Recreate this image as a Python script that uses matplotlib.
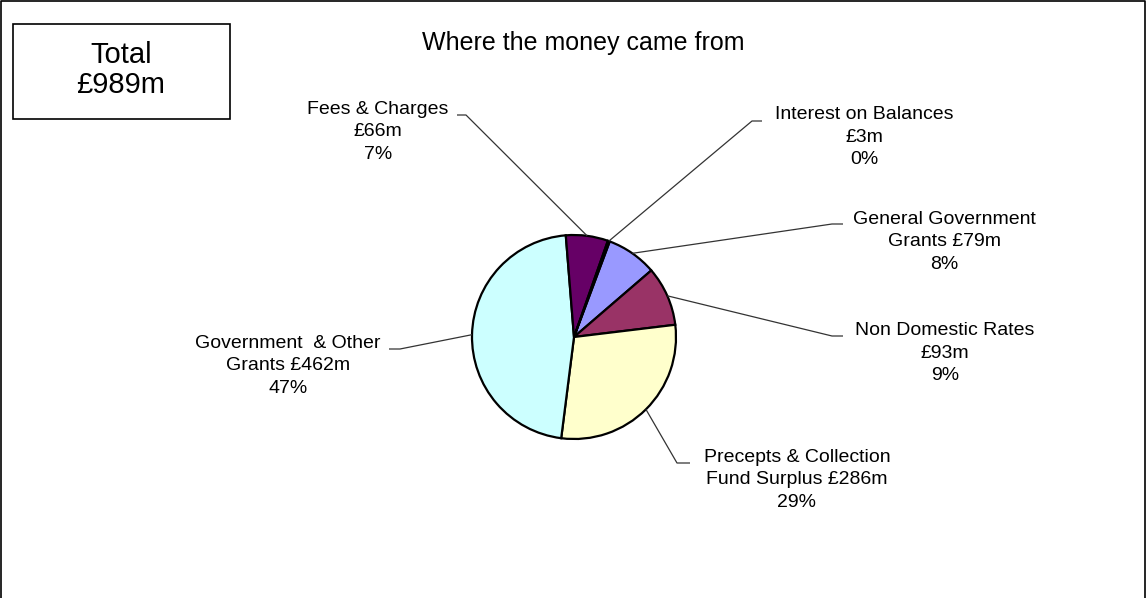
import numpy as np
import matplotlib
matplotlib.use("Agg")
import matplotlib.pyplot as plt
from matplotlib.patches import Rectangle

# data, in the order Excel drew the slices (clockwise)
labels = ["General Government\nGrants £79m\n8%",
          "Non Domestic Rates\n£93m\n9%",
          "Precepts & Collection\nFund Surplus £286m\n29%",
          "Government  & Other\nGrants £462m\n47%",
          "Fees & Charges\n£66m\n7%",
          "Interest on Balances\n£3m\n0%"]
values = [79, 93, 286, 462, 66, 3]
colors = ["#9999FF", "#993366", "#FFFFCC", "#CCFFFF", "#660066", "#FF8080"]
total_label = "Total\n£989m"
title = "Where the money came from"

W, H = 1146, 598
plt.rcParams['font.family'] = ['Liberation Sans', 'DejaVu Sans']

fig = plt.figure(figsize=(W / 100, H / 100), dpi=100)
ax = fig.add_axes([0, 0, 1, 1])

cx, cy, r = 574, H - 337, 102
start = 69.5
wedges, _ = ax.pie(values, colors=colors, startangle=start, counterclock=False,
                   center=(cx, cy), radius=r,
                   wedgeprops=dict(edgecolor="black", linewidth=1.6))
ax.set_xlim(0, W)
ax.set_ylim(0, H)
ax.set_aspect("auto")
ax.axis("off")

# label placement: text block centre, elbow point, end of short tick
layout = [
    (944, 242, (832, 224), (843, 224)),
    (945, 353, (832, 336), (843, 336)),
    (797, 480, (677, 463), (690, 463)),
    (288, 366, (400, 349), (389, 349)),
    (378, 132, (466, 115), (457, 115)),
    (864, 137, (752, 121), (762, 121)),
]

for w, lab, (tx, ty, elbow, tick) in zip(wedges, labels, layout):
    mid = np.deg2rad((w.theta1 + w.theta2) / 2)
    ex, ey = cx + r * np.cos(mid), cy + r * np.sin(mid)
    ax.plot([ex, elbow[0], tick[0]], [ey, H - elbow[1], H - tick[1]],
            color="#333333", lw=0.9, solid_capstyle="butt")
    ax.text(tx, H - ty, lab, ha="center", va="center", fontsize=14,
            linespacing=1.4, color="black")

ax.text(583, H - 43, title, ha="center", va="center", fontsize=18)

ax.add_patch(Rectangle((13, H - 119), 217, 95, fill=False, edgecolor="black", lw=1.2))
ax.text(121, H - 70, total_label, ha="center", va="center", fontsize=21, linespacing=1.1)

# outer chart border
ax.plot([0.5, 0.5, W - 1, W - 1], [0, H - 0.5, H - 0.5, 0], color="black", lw=1.2)

fig.savefig("out.png", dpi=100)
